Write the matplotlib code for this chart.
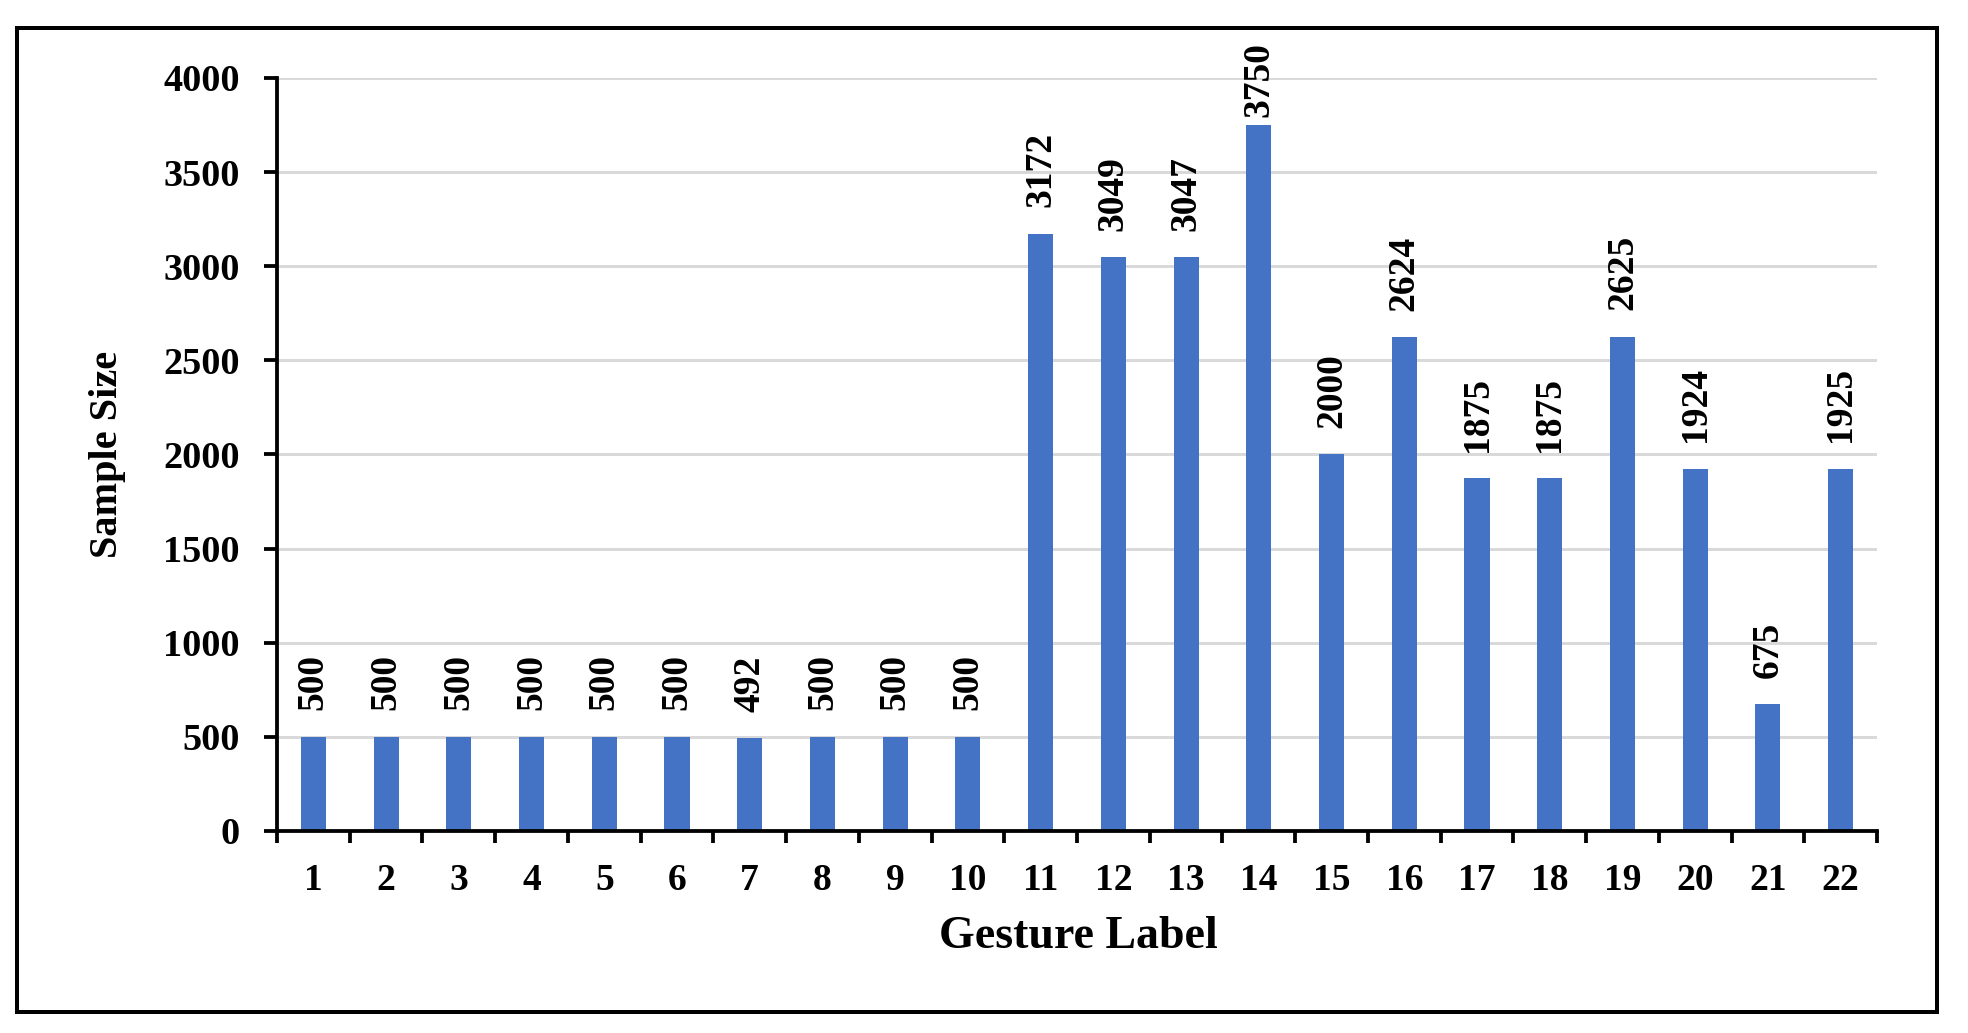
import matplotlib
matplotlib.use("Agg")
import matplotlib.pyplot as plt
from matplotlib.patches import Rectangle
from matplotlib.ticker import FixedLocator, NullFormatter

# ---- data ----
gesture_labels = [str(i) for i in range(1, 23)]
sample_sizes = [500, 500, 500, 500, 500, 500, 492, 500, 500, 500,
                3172, 3049, 3047, 3750, 2000, 2624, 1875, 1875, 2625,
                1924, 675, 1925]
y_ticks = [0, 500, 1000, 1500, 2000, 2500, 3000, 3500, 4000]

W, H = 1968, 1033
DPI = 100
plt.rcParams['font.family'] = ['Liberation Serif', 'DejaVu Serif']
plt.rcParams['font.weight'] = 'bold'

fig = plt.figure(figsize=(W / DPI, H / DPI), dpi=DPI)
fig.patch.set_facecolor('white')

px = 72.0 / DPI  # points per pixel

ax_left, ax_right = 277 / W, 1877 / W
ax_bottom, ax_top = 1 - 831 / H, 1 - 78 / H
ax = fig.add_axes([ax_left, ax_bottom, ax_right - ax_left, ax_top - ax_bottom])

x = list(range(len(gesture_labels)))
ax.bar(x, sample_sizes, width=0.345, color='#4472C4', zorder=3)

ax.set_xlim(-0.5, len(gesture_labels) - 0.5)
ax.set_ylim(0, 4000)

# grid
ax.set_yticks(y_ticks)
ax.yaxis.grid(True, color='#d9d9d9', linewidth=3 * px, zorder=0)
ax.set_axisbelow(True)

# spines
for s in ['top', 'right']:
    ax.spines[s].set_visible(False)
for s in ['left', 'bottom']:
    ax.spines[s].set_linewidth(3.8 * px)
    ax.spines[s].set_color('black')
    ax.spines[s].set_zorder(4)

# y ticks
ax.tick_params(axis='y', which='major', direction='out', length=13 * px,
               width=3.8 * px, pad=24 * px, labelsize=27.5, colors='black')
for lab in ax.get_yticklabels():
    lab.set_fontweight('bold')

# x ticks: labels at centers, tick marks at category boundaries
ax.set_xticks(x)
ax.set_xticklabels(gesture_labels, fontsize=27, fontweight='bold')
ax.tick_params(axis='x', which='major', length=0, pad=32 * px)
ax.xaxis.set_minor_locator(FixedLocator([i - 0.5 for i in range(len(gesture_labels) + 1)]))
ax.xaxis.set_minor_formatter(NullFormatter())
ax.tick_params(axis='x', which='minor', direction='out', length=12 * px,
               width=3.8 * px, colors='black')

# data labels
for xi, v in zip(x, sample_sizes):
    off = 6 if v >= 3600 else 19
    ax.annotate(str(v), xy=(xi, v), xytext=(0, off), textcoords='offset points',
                rotation=90, ha='center', va='bottom', fontsize=27,
                fontweight='bold', color='black', zorder=5,
                annotation_clip=False)

# axis titles
fig.text(108 / W, 1 - 454 / H, 'Sample Size', rotation=90, ha='center',
         va='center', fontsize=29, fontweight='bold')
fig.text(1078 / W, 1 - 948 / H, 'Gesture Label', ha='center',
         va='baseline', fontsize=33, fontweight='bold')

# outer border
bl, bt, br, bb = 17, 28, 1937, 1012
fig.patches.append(Rectangle((bl / W, 1 - bb / H), (br - bl) / W, (bb - bt) / H,
                             transform=fig.transFigure, fill=False,
                             edgecolor='black', linewidth=4 * px, zorder=10))

fig.savefig('out.png', dpi=DPI, facecolor='white')
